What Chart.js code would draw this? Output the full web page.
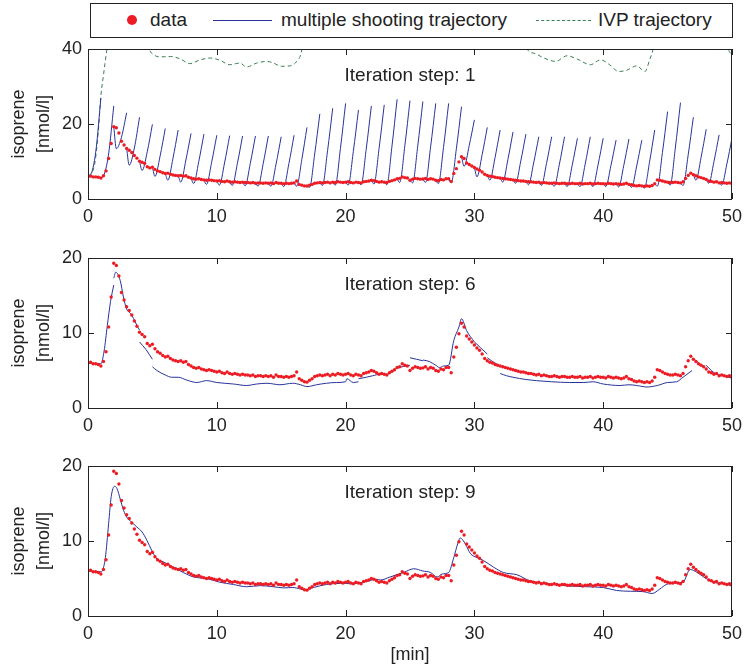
<!DOCTYPE html>
<html>
<head>
<meta charset="utf-8">
<title>Isoprene - multiple shooting iterations</title>
<script src="https://cdn.jsdelivr.net/npm/chart.js@4.4.1/dist/chart.umd.min.js"></script>
<style>
    body { margin: 0; background: #fff; overflow: hidden; }
    #wrap { position: relative; width: 744px; height: 671px; overflow: hidden; font-family: "Liberation Sans", Arial, sans-serif; color: #222; }
    #wrap canvas { position: absolute; left: 0; }
    .legend-box { position: absolute; left: 90px; top: 3px; width: 643px; height: 35px; box-sizing: border-box; border: 1px solid #222; background: #fff; }
    .lg { position: absolute; top: 3px; height: 34px; line-height: 34px; font-size: 19px; white-space: nowrap; }
    .lg-dot { position: absolute; left: 127px; top: 15px; width: 10px; height: 10px; border-radius: 50%; background: #ed1c24; }
    .lg-line { position: absolute; top: 20px; height: 0; }
</style>
</head>
<body>
<div id="wrap">
    <!-- canvases are a bit wider than the page so the plot box ends at x=732 -->
    <canvas id="step1" width="749" height="198" style="top:32px"></canvas>
    <canvas id="step6" width="749" height="198" style="top:241px"></canvas>
    <canvas id="step9" width="749" height="222" style="top:449px"></canvas>

    <div class="legend-box"></div>
    <span class="lg-dot"></span>
    <span class="lg" style="left:150px">data</span>
    <span class="lg-line" style="left:213px; width:59px; border-top:1px solid #28339a"></span>
    <span class="lg" style="left:281px">multiple shooting trajectory</span>
    <span class="lg-line" style="left:536px; width:55px; border-top:1px dashed #3a7f55"></span>
    <span class="lg" style="left:598px">IVP trajectory</span>
</div>

<script>
// measured isoprene, one value every 0.2 min (0 .. 50 min)
const sampleStep = 0.2;
const dataValues = [
    6.0, 6.1, 5.9, 5.9, 5.8, 5.6, 6.2, 7.5, 10.8, 14.8,
    19.3, 19.0, 17.6, 15.4, 14.4, 13.5, 13.0, 12.4, 11.6, 10.9,
    10.1, 9.8, 9.5, 8.6, 8.3, 8.5, 7.9, 7.5, 7.3, 7.0,
    6.8, 6.9, 6.6, 6.4, 6.3, 6.2, 6.3, 6.1, 6.2, 5.8,
    5.6, 5.4, 5.3, 5.4, 5.2, 5.1, 5.0, 5.1, 5.0, 4.9,
    4.8, 4.9, 4.7, 4.6, 4.8, 4.6, 4.5, 4.6, 4.5, 4.4,
    4.5, 4.4, 4.4, 4.3, 4.4, 4.2, 4.3, 4.3, 4.2, 4.3,
    4.2, 4.3, 4.1, 4.4, 4.2, 4.2, 4.1, 4.2, 4.1, 4.2,
    4.3, 4.8, 3.9, 3.7, 3.5, 3.45, 3.7, 3.9, 4.2, 4.3,
    4.4, 4.3, 4.4, 4.5, 4.3, 4.5, 4.4, 4.6, 4.5, 4.4,
    4.5, 4.6, 4.4, 4.3, 4.5, 4.4, 4.3, 4.6, 4.7, 4.8,
    5.0, 4.9, 4.7, 4.5, 4.6, 4.5, 4.4, 4.7, 4.9, 5.1,
    5.4, 5.5, 5.9, 5.7, 5.6, 5.0, 5.3, 5.5, 5.4, 5.3,
    5.35, 5.5, 5.2, 5.4, 5.3, 5.0, 4.9, 5.2, 5.1, 5.4,
    5.4, 4.7, 6.8, 8.1, 9.9, 11.3, 10.8, 9.6, 9.2, 8.8,
    8.4, 8.0, 7.7, 7.2, 6.6, 6.3, 6.1, 6.0, 5.8, 5.7,
    5.6, 5.5, 5.4, 5.3, 5.2, 5.1, 5.0, 4.9, 4.8, 4.8,
    4.7, 4.6, 4.6, 4.5, 4.4, 4.5, 4.3, 4.4, 4.3, 4.2,
    4.2, 4.3, 4.2, 4.1, 4.2, 4.2, 4.1, 4.1, 4.2, 4.1,
    4.1, 4.2, 4.0, 4.1, 4.1, 4.2, 4.0, 4.1, 4.2, 4.1,
    4.1, 4.0, 4.2, 4.1, 4.0, 4.1, 4.0, 3.9, 4.0, 4.2,
    3.9, 3.8, 3.6, 3.5, 3.6, 3.5, 3.4, 3.5, 3.4, 3.6,
    4.1, 5.1, 5.0, 4.8, 4.6, 4.5, 4.4, 4.4, 4.5, 4.4,
    4.3, 4.6, 5.5, 6.3, 6.9, 6.5, 6.2, 5.9, 5.7, 5.5,
    5.2, 4.8, 4.7, 4.5, 4.6, 4.3, 4.4, 4.3, 4.2, 4.3,
    4.1
];

// iteration 1: one shooting segment per minute, values at these offsets inside the minute
const segOffsets = [0, 0.2, 0.6, 1];
const ms1Segments = [
    [6.0, 6.4, 12.5, 26.9], [5.6, 6.1, 12.0, 24.8], [19.3, 13.4, 16.5, 23.0], [13.5, 9.0, 13.6, 21.8],
    [10.1, 7.6, 12.6, 19.9], [8.5, 6.0, 11.5, 18.8], [6.8, 5.0, 10.9, 18.4], [6.3, 4.5, 10.4, 17.5],
    [5.6, 4.1, 10.0, 17.3], [5.0, 3.9, 9.8, 17.0], [4.8, 3.7, 9.6, 16.9], [4.6, 3.6, 9.5, 16.8],
    [4.5, 3.5, 9.5, 16.8], [4.3, 3.4, 9.4, 16.8], [4.2, 3.4, 9.3, 16.6], [4.2, 3.3, 9.5, 17.0],
    [4.3, 3.4, 10.5, 19.1], [3.45, 3.1, 12.0, 22.7], [4.4, 3.6, 12.9, 24.2], [4.4, 3.7, 13.5, 25.5],
    [4.5, 3.7, 12.7, 23.75], [4.4, 3.8, 13.3, 24.8], [5.0, 4.0, 13.5, 25.1], [4.5, 3.8, 14.1, 26.6],
    [5.4, 4.4, 14.2, 26.25], [5.0, 4.3, 14.1, 26.0], [5.35, 4.4, 13.9, 25.5], [5.0, 4.1, 13.7, 25.5],
    [5.4, 4.3, 13.4, 24.6], [11.3, 8.7, 14.3, 21.1], [8.4, 5.9, 11.8, 19.1], [6.3, 5.0, 11.0, 18.4],
    [5.6, 4.5, 10.5, 17.9], [5.1, 4.2, 10.1, 17.3], [4.7, 3.8, 9.6, 16.6], [4.5, 3.6, 9.5, 16.6],
    [4.2, 3.4, 9.3, 16.6], [4.2, 3.3, 9.1, 16.2], [4.1, 3.3, 9.3, 16.6], [4.2, 3.3, 9.1, 16.2],
    [4.1, 3.3, 8.9, 15.7], [4.1, 3.2, 9.0, 16.0], [3.9, 3.1, 8.8, 15.7], [3.5, 2.9, 9.9, 18.4],
    [4.1, 3.4, 12.4, 23.3], [4.5, 3.7, 13.6, 25.7], [4.3, 3.6, 11.8, 21.8], [6.5, 5.0, 11.1, 18.6],
    [5.2, 4.2, 10.0, 17.1], [4.3, 3.7, 9.3, 16.2]
];

// iteration 1: single initial value problem run [min, nmol/l] (leaves the plot above 40)
const ivpCurve = [
    [0, 6.0], [0.5, 9.0], [0.8, 18.0], [1.0, 27.5], [1.2, 33.0], [1.47, 40.0], [2.0, 52], [4.2, 52],
    [4.75, 40.2], [5.1, 38.5], [5.6, 37.9], [6.4, 38.0], [7.2, 37.3], [7.9, 36.1], [8.7, 37.1],
    [9.5, 37.6], [10.25, 37.0], [11.0, 35.8], [11.8, 36.25], [12.3, 35.2], [13.1, 36.25], [13.9, 36.7],
    [14.4, 36.25], [15.0, 35.4], [15.7, 35.5], [16.2, 36.7], [16.6, 39.8], [17.0, 52], [33.7, 52],
    [34.1, 40.0], [34.6, 38.9], [35.4, 37.6], [36.3, 36.7], [37.2, 38.2], [38.0, 37.3], [39.0, 35.8],
    [39.8, 37.1], [40.5, 35.8], [41.2, 34.0], [41.8, 34.3], [42.6, 35.5], [43.25, 34.0], [43.6, 37.1],
    [43.9, 40.5], [44.3, 52], [49.4, 52], [49.7, 40.5], [50, 38.5]
];

// iteration 6: trajectory pieces, null = break between shooting intervals
const ms6Curve = [
    [0, 6.0], [0.5, 5.9], [1.0, 5.9], [1.25, 7.6], [1.5, 11.0], [1.75, 14.2], [2.0, 16.4], null,
    [2.0, 17.3], [2.15, 18.1], [2.5, 17.0], [2.75, 14.8], [3.0, 13.2], [3.3, 12.6], [3.55, 11.9], [3.8, 11.0], [4.0, 10.4], null,
    [4.0, 8.8], [4.5, 7.8], [5.0, 6.5], null,
    [5.0, 5.5], [5.35, 5.0], [6.0, 4.4], [6.5, 4.1], [7.0, 4.1], [7.7, 3.7], [8.45, 3.4], [9.2, 3.65], [10.0, 3.4],
    [11.3, 3.2], [12.3, 3.0], [13.1, 3.2], [13.9, 3.3], [14.9, 3.1], [15.9, 3.3], [16.5, 3.1], [17.0, 2.85],
    [17.75, 3.1], [18.5, 3.3], [19.3, 3.4], [20.0, 3.5], [20.1, 3.9], [20.6, 3.4], [21.0, 3.5], null,
    [21.0, 3.9], [21.6, 4.1], [22.1, 4.3], [22.7, 4.5], [23.2, 4.5], [24.0, 5.3], [25.0, 5.7], null,
    [25.0, 6.7], [25.5, 6.5], [26.0, 6.3], null,
    [26.0, 6.4], [26.5, 6.2], [27.0, 5.7], [27.3, 5.4], [27.6, 5.6], [28.0, 5.7], [28.4, 9.0], [28.8, 10.8],
    [29.0, 11.9], [29.4, 10.3], [30.0, 8.8], null,
    [30.0, 8.8], [30.5, 8.0], [31.0, 7.2], null,
    [31.0, 6.7], [31.5, 6.1], [32.0, 5.6], null,
    [32.0, 4.6], [32.5, 4.3], [33.0, 4.1], [34.0, 3.8], [34.8, 3.65], [36.0, 3.5], [37.4, 3.4], [38.5, 3.4],
    [39.2, 3.5], [40.0, 3.2], [41.3, 3.0], [42.0, 3.1], [42.6, 3.0], [43.4, 2.8], [44.2, 3.0], [45.0, 3.4],
    [45.7, 3.5], [46.2, 4.1], [46.9, 5.0], null,
    [47.0, 6.6], [47.5, 5.9], [48.0, 5.2], null,
    [48.0, 5.7], [48.4, 5.0], [48.8, 4.5], [49.3, 4.3], [50.0, 4.0]
];

// iteration 9: converged trajectory
const ms9Curve = [
    [0, 6.05], [0.5, 5.9], [1.0, 5.9], [1.1, 6.0], [1.35, 7.8], [1.6, 12.3], [1.8, 15.9], [2.07, 17.3],
    [2.25, 17.0], [2.5, 15.6], [2.76, 14.1], [3.0, 13.2], [3.4, 12.5], [3.8, 11.85], [4.2, 11.2], [4.57, 10.1],
    [4.96, 8.7], [5.35, 7.6], [5.87, 7.2], [6.64, 6.5], [7.4, 5.8], [8.2, 5.2], [9.2, 5.0], [10.25, 4.5],
    [11.3, 4.2], [12.3, 3.9], [13.4, 4.05], [14.4, 3.9], [15.2, 3.75], [15.9, 3.8], [16.5, 3.6], [16.85, 3.5],
    [17.5, 3.8], [18.5, 4.2], [19.6, 4.35], [20.6, 4.3], [21.6, 4.6], [22.4, 4.9], [22.7, 4.8], [23.45, 5.2],
    [24.5, 5.8], [25.3, 6.3], [26.0, 6.0], [26.6, 5.8], [27.1, 5.2], [27.5, 5.6], [28.0, 5.8], [28.4, 7.8],
    [28.7, 9.6], [28.9, 10.4], [29.3, 9.6], [29.7, 8.3], [30.2, 7.8], [30.7, 7.4], [31.5, 6.5], [32.25, 5.8],
    [33.3, 5.5], [34.3, 4.7], [35.6, 4.3], [37.4, 4.0], [38.7, 3.9], [40.0, 3.8], [41.05, 3.4], [42.1, 3.3],
    [43.1, 3.25], [43.8, 3.0], [44.4, 3.6], [44.9, 4.2], [45.7, 4.4], [46.2, 4.5], [46.75, 6.2], [47.3, 5.8],
    [47.8, 5.2], [48.6, 4.5], [49.3, 4.3], [50.0, 4.05]
];

const xTicks = [0, 10, 20, 30, 40, 50];

const RED = '#ed1c24';
const BLUE = '#28339a';
const GREEN = '#3a7f55';
const FONT = '"Liberation Sans", Arial, sans-serif';

function toPoints(pairs) {
    const out = [];
    let lastX = 0;
    pairs.forEach(p => {
        if (p === null) {
            out.push({ x: lastX, y: null });
        } else {
            lastX = p[0];
            out.push({ x: p[0], y: p[1] });
        }
    });
    return out;
}

const dataPoints = dataValues.map((v, i) => ({ x: +(i * sampleStep).toFixed(1), y: v }));

const ms1Points = [];
ms1Segments.forEach((seg, k) => {
    seg.forEach((v, j) => ms1Points.push({ x: k + segOffsets[j], y: v }));
    ms1Points.push({ x: k + 1, y: null });
});

// box, inward ticks and the iteration label (MATLAB style axes)
const framePlugin = {
    id: 'frame',
    afterDraw(chart, args, opts) {
        const { ctx, chartArea: a, scales } = chart;
        const xs = scales.x, ys = scales.y;
        ctx.save();
        ctx.strokeStyle = '#222';
        ctx.lineWidth = 1;
        ctx.strokeRect(a.left + 0.5, a.top + 0.5, a.right - a.left - 1, a.bottom - a.top);
        ctx.beginPath();
        xTicks.forEach(t => {
            const px = Math.round(xs.getPixelForValue(t)) + 0.5;
            ctx.moveTo(px, a.bottom); ctx.lineTo(px, a.bottom - 6);
            ctx.moveTo(px, a.top); ctx.lineTo(px, a.top + 6);
        });
        ys.ticks.forEach(t => {
            const py = Math.round(ys.getPixelForValue(t.value)) + 0.5;
            ctx.moveTo(a.left, py); ctx.lineTo(a.left + 6, py);
            ctx.moveTo(a.right, py); ctx.lineTo(a.right - 6, py);
        });
        ctx.stroke();
        ctx.fillStyle = '#222';
        ctx.font = '19px ' + FONT;
        ctx.textAlign = 'center';
        ctx.textBaseline = 'middle';
        ctx.fillText(opts.label, (a.left + a.right) / 2, a.top + 27);
        ctx.restore();
    }
};

function lineSet(label, points, color, dashed, order) {
    return {
        label: label,
        data: points,
        borderColor: color,
        borderWidth: 1,
        borderDash: dashed ? [4, 3] : [],
        pointRadius: 0,
        fill: false,
        spanGaps: false,
        cubicInterpolationMode: 'monotone',
        order: order
    };
}

function dataSet() {
    return {
        label: 'data',
        data: dataPoints,
        showLine: false,
        pointRadius: 1.7,
        pointBorderWidth: 0,
        pointBackgroundColor: RED,
        borderColor: RED,
        order: 0
    };
}

function makePanel(id, yMax, yStep, label, datasets, xAxisHeight, withXTitle) {
    return new Chart(document.getElementById(id), {
        type: 'line',
        data: { datasets: datasets },
        options: {
            responsive: false,
            animation: false,
            events: [],
            layout: { padding: { top: 17, right: 17, left: 0, bottom: 0 } },
            plugins: {
                legend: { display: false },
                tooltip: { enabled: false },
                frame: { label: label }
            },
            scales: {
                x: {
                    type: 'linear',
                    min: 0,
                    max: 50,
                    grid: { display: false, drawTicks: false },
                    border: { display: false },
                    afterBuildTicks: s => { s.ticks = xTicks.map(v => ({ value: v })); },
                    afterFit: s => { s.height = xAxisHeight; },
                    ticks: { autoSkip: false, maxRotation: 0, padding: 7, color: '#222', font: { size: 18 } },
                    title: {
                        display: withXTitle,
                        text: '[min]',
                        color: '#222',
                        font: { size: 18 },
                        padding: { top: 0, bottom: 5 }
                    }
                },
                y: {
                    min: 0,
                    max: yMax,
                    grid: { display: false, drawTicks: false },
                    border: { display: false },
                    afterFit: s => { s.width = 88; },
                    ticks: { stepSize: yStep, padding: 6, color: '#222', font: { size: 18 } },
                    title: {
                        display: true,
                        text: ['isoprene', '[nmol/l]'],
                        color: '#222',
                        font: { size: 18, lineHeight: 1.39 },
                        padding: { top: 7, bottom: 0 }
                    }
                }
            }
        },
        plugins: [framePlugin]
    });
}

Chart.defaults.font.family = FONT;

makePanel('step1', 40, 20, 'Iteration step: 1', [
    dataSet(),
    lineSet('multiple shooting trajectory', ms1Points, BLUE, false, 1),
    lineSet('IVP trajectory', toPoints(ivpCurve), GREEN, true, 2)
], 31, false);

makePanel('step6', 20, 10, 'Iteration step: 6', [
    dataSet(),
    lineSet('multiple shooting trajectory', toPoints(ms6Curve), BLUE, false, 1)
], 31, false);

makePanel('step9', 20, 10, 'Iteration step: 9', [
    dataSet(),
    lineSet('multiple shooting trajectory', toPoints(ms9Curve), BLUE, false, 1)
], 55, true);
</script>
</body>
</html>
